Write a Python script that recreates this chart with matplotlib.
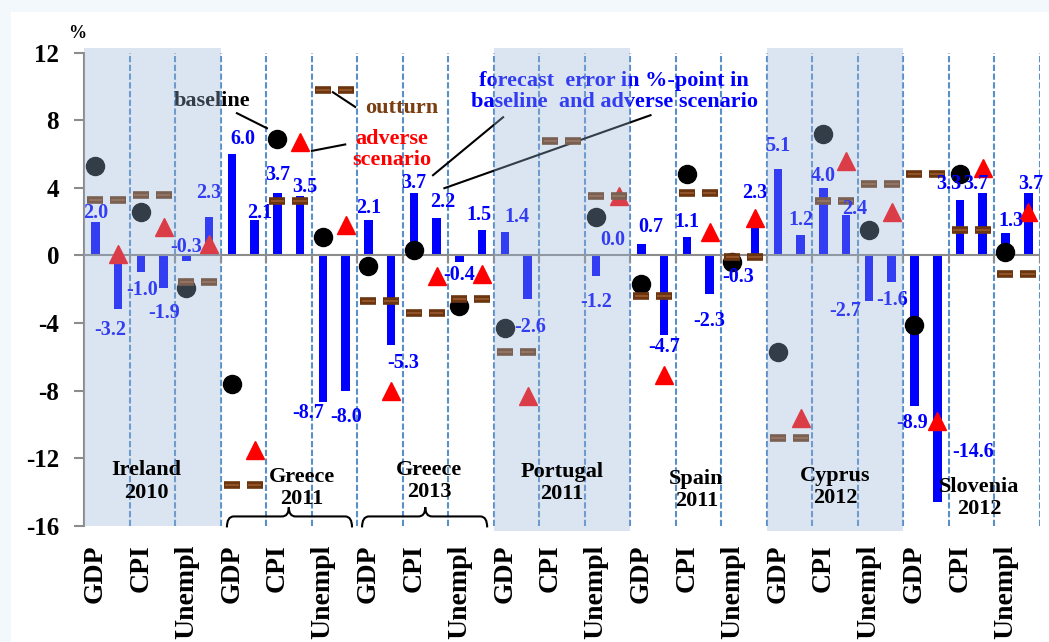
import numpy as np
import matplotlib
matplotlib.use('Agg')
import matplotlib.pyplot as plt
from matplotlib.patches import Rectangle, PathPatch
from matplotlib.path import Path
from matplotlib.transforms import blended_transform_factory

plt.rcParams['font.family'] = ['Liberation Serif', 'DejaVu Serif']
plt.rcParams['font.weight'] = 'bold'
plt.rcParams['axes.unicode_minus'] = False

nan = np.nan
variables = ['GDP', 'CPI', 'Unempl']
countries = ['Ireland\n2010', 'Greece\n2011', 'Greece\n2013', 'Portugal\n2011',
             'Spain\n2011', 'Cyprus\n2012', 'Slovenia\n2012']

# forecasts (baseline = circle, adverse = triangle) and outturn (dashes), in %
baseline = [5.3, 2.6, -1.9, -7.6, 6.9, 1.1, -0.6, 0.3, -3.0, -4.3, nan, 2.3,
            -1.7, 4.8, -0.4, -5.7, 7.2, 1.5, -4.1, 4.8, 0.2]
adverse = [0.1, 1.7, 0.7, -11.5, 6.7, 1.8, -8.0, -1.2, -1.1, -8.3, nan, 3.5,
           -7.1, 1.4, 2.2, -9.6, 5.6, 2.6, -9.8, 5.2, 2.6]
outturn = [3.3, 3.6, -1.6, -13.6, 3.2, 9.8, -2.7, -3.4, -2.6, -5.7, 6.8, 3.5,
           -2.4, 3.7, -0.1, -10.8, 3.2, 4.2, 4.8, 1.5, -1.1]
# forecast errors in %-point (bars)
err_base = [2.0, -1.0, -0.3, 6.0, 3.7, -8.7, 2.1, 3.7, -0.4, 1.4, nan, -1.2,
            0.7, 1.1, -0.3, 5.1, 4.0, -2.7, -8.9, 3.3, 1.3]
err_adv = [-3.2, -1.9, 2.3, 2.1, 3.5, -8.0, -5.3, 2.2, 1.5, -2.6, nan, 0.0,
           -4.7, -2.3, 2.3, 1.2, 2.4, -1.6, -14.6, 3.7, 3.7]

# label placement (layout only): offset from bar end, (dx categories, dy %)
off_base = [(0, 0.5), (0.03, -1.05), (0, 0.8), (0.25, 0.9), (0, 1.05), (-0.32, -0.6),
            (0, 0.7), (0, 0.58), (0, -0.77), (0.27, 0.87), (0, 0), (0, -1.56),
            (0.2, 0.98), (0, 0.87), (0.13, -0.98), (0, 1.37), (0, 0.69), (-0.52, -0.6),
            (-0.04, -1.02), (-0.25, 0.92), (0.11, 0.73)]
off_adv = [(-0.18, -1.22), (0, -1.5), (0, 1.4), (0.12, 0.4), (0.11, 0.54), (0, -1.57),
           (0.26, -1.07), (0.14, 0.95), (-0.06, 0.88), (0.06, -1.64), (0, 0), (-0.14, 0.91),
           (0, -0.73), (0, -1.59), (0, 1.39), (0, 0.89), (0.18, 0.34), (0, -1.04),
           (0.8, 2.96), (-0.16, 0.52), (0.05, 0.52)]
country_pos = [(0.86, -13.38), (4.29, -13.77), (7.09, -13.36), (10.01, -13.47),
               (12.96, -13.89), (16.01, -13.71), (19.18, -14.36)]
shaded = [0, 3, 5]

n = len(baseline)
x = np.arange(n)
xb = x - 0.25
xa = x + 0.25
gray = '#8c8c8c'

fig = plt.figure(figsize=(10.49, 6.42), dpi=100, facecolor='#f3f8fc')
fig.add_artist(Rectangle((11 / 1049, 0), 1, 1 - 12 / 642, transform=fig.transFigure,
                         facecolor='white', edgecolor='none', zorder=-10))
ax = fig.add_axes([0.0801, 0.1811, 0.9109, 0.7368])
ax.set_facecolor('none')
ax.set_xlim(-0.5, n - 0.5)
ax.set_ylim(-16, 12)

# dashed separators
ax.vlines(x + 0.5, -16, 12, colors='#5b8fc9', linestyles=(0, (3, 1.2)), lw=1.5, zorder=1)

eb = np.array(err_base)
ea = np.array(err_adv)
ok = ~np.isnan(eb)
ax.bar(xb[ok], eb[ok], width=0.19, color='#0000ff', zorder=2)
ax.bar(xa[ok], ea[ok], width=0.19, color='#0000ff', zorder=2)

ax.axhline(0, color=gray, lw=1.5, zorder=2.5)
ax.vlines(x + 0.5, -0.45, 0, colors=gray, lw=1.5, zorder=2.5)

ax.plot(xb, baseline, 'o', ms=13, color='black', ls='none', zorder=3)
ax.plot(xa, adverse, '^', ms=12.5, color='red', ls='none', zorder=3)

oy = np.concatenate([outturn, outturn])
ox = np.concatenate([xb, xa])
ax.hlines(oy, ox - 0.176, ox + 0.176, colors='#6b3510', lw=5.5, zorder=3.5, capstyle='butt')
ax.hlines(oy, ox - 0.15, ox + 0.15, colors='#9a5a2e', lw=1.2, zorder=3.6, capstyle='butt')

for i in range(n):
    if np.isnan(eb[i]):
        continue
    for xp, v, (dx, dy) in [(xb[i], eb[i], off_base[i]), (xa[i], ea[i], off_adv[i])]:
        ax.text(xp + dx, v + dy, f'{v:.1f}', ha='center', va='center',
                color='#0000ff', fontsize=14.5, zorder=4)

# shaded country blocks (drawn over the data, like the original)
for k, g in enumerate(shaded):
    bottom = -16 if g == 0 else -16.3
    ax.add_patch(Rectangle((3 * g - 0.5, bottom), 3, 12.3 - bottom, facecolor='#97b5d6',
                           alpha=0.34, edgecolor='none', zorder=5, clip_on=False))

for g, (cx, cy) in enumerate(country_pos):
    ax.text(cx, cy, countries[g], ha='center', va='center', fontsize=16,
            linespacing=1.15, zorder=6)


def brace(x0, x1, xt, yb=-16.1, ym=-15.45, yt=-14.9, r=0.15):
    verts = [(x0, yb), (x0, ym), (x0 + r, ym), (xt - r, ym), (xt, ym), (xt, yt),
             (xt, ym), (xt + r, ym), (x1 - r, ym), (x1, ym), (x1, yb)]
    codes = [Path.MOVETO, Path.CURVE3, Path.CURVE3, Path.LINETO, Path.CURVE3, Path.CURVE3,
             Path.CURVE3, Path.CURVE3, Path.LINETO, Path.CURVE3, Path.CURVE3]
    ax.add_patch(PathPatch(Path(verts, codes), fill=False, lw=1.5, edgecolor='black',
                           clip_on=False, zorder=6))


brace(2.64, 5.39, 4.0)
brace(5.61, 8.36, 7.0)

# annotations
ax.text(2.31, 9.13, 'baseline', ha='center', va='center', fontsize=16, color='black')
ax.plot([2.86, 3.52], [8.42, 7.53], color='black', lw=1.5)
ax.text(6.49, 8.72, 'outturn', ha='center', va='center', fontsize=16, color='#7a3e10')
ax.plot([4.97, 5.46], [9.66, 8.79], color='black', lw=1.5)
ax.text(6.27, 6.29, 'adverse\nscenario', ha='center', va='center', fontsize=16,
        color='#ff0000', linespacing=1.05)
ax.plot([4.51, 5.24], [6.19, 6.57], color='black', lw=1.5)
ax.text(11.15, 9.72, 'forecast  error in %-point in\nbaseline  and adverse scenario',
        ha='center', va='center', fontsize=16, color='#0000ff', linespacing=1.05)
ax.plot([7.17, 8.71], [4.75, 8.18], color='black', lw=1.5)
ax.plot([7.42, 11.95], [3.98, 8.30], color='black', lw=1.5)

# axes styling
for s in ['top', 'right', 'bottom']:
    ax.spines[s].set_visible(False)
ax.spines['left'].set_color(gray)
ax.spines['left'].set_linewidth(1.5)
ax.set_yticks(range(-16, 13, 4))
ax.tick_params(axis='y', direction='out', length=7, width=1.5, color=gray,
               labelsize=18, pad=11)
ax.set_xticks([])

trans = blended_transform_factory(ax.transData, ax.transAxes)
for i in range(n):
    ax.text(xb[i], -0.04, variables[i % 3], rotation=90, ha='center', va='top',
            transform=trans, fontsize=20, clip_on=False)

fig.text(77 / 1049, 1 - 34 / 642, '%', fontsize=13, ha='center', va='center')

fig.savefig('out.png', dpi=100, facecolor=fig.get_facecolor())
